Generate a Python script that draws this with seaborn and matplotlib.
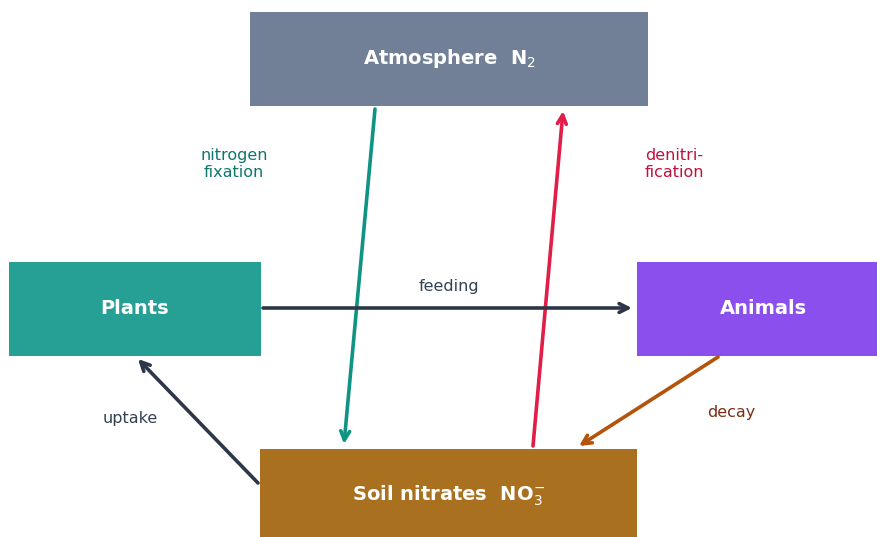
import matplotlib
matplotlib.use("Agg")
import matplotlib.pyplot as plt
import seaborn as sns
from matplotlib.patches import Rectangle

sns.set_theme(style="white")
plt.rcParams['font.family'] = ['DejaVu Sans']

# boxes of the cycle (pixel space, y down)
box_names = ["Atmosphere  N$_2$", "Plants", "Animals", "Soil nitrates  NO$_3^{-}$"]
box_x = [250, 9, 637, 260]
box_y = [12, 262, 262, 449]
box_w = [398, 252, 252, 377]
box_h = [94, 94, 94, 94]
box_colors = ["#718096", "#26a095", "#8a4fed", "#a97020"]

# flows between boxes
flow_labels = ["nitrogen\nfixation", "denitri-\nfication", "feeding", "decay", "uptake"]
flow_start = [(375, 109), (533, 446), (263, 308), (718, 357), (258, 483)]
flow_end = [(344, 444), (563, 111), (632, 308), (579, 446), (138, 359)]
flow_colors = ["#0f9484", "#e11d48", "#2d3748", "#b4530a", "#2d3748"]
label_pos = [(234, 164), (674, 164), (449, 286), (731, 413), (130, 418)]
label_colors = ["#0f766e", "#be123c", "#334155", "#7c2d12", "#334155"]

fig = plt.figure(figsize=(8.77, 5.37), dpi=100)
ax = fig.add_axes([0, 0, 1, 1])
ax.set_xlim(0, 877)
ax.set_ylim(537, 0)
ax.axis("off")

for name, x, y, w, h, c in zip(box_names, box_x, box_y, box_w, box_h, box_colors):
    ax.add_patch(Rectangle((x, y), w, h, facecolor=c, edgecolor="none"))
    ax.text(x + w / 2, y + h / 2, name, color="white", fontsize=14,
            fontweight="bold", ha="center", va="center")

for s, e, c in zip(flow_start, flow_end, flow_colors):
    ax.annotate("", xy=e, xytext=s,
                arrowprops=dict(arrowstyle="->", color=c, lw=2.6,
                                mutation_scale=16, shrinkA=0, shrinkB=0))

for lab, p, c in zip(flow_labels, label_pos, label_colors):
    ax.text(p[0], p[1], lab, color=c, fontsize=11.5, ha="center", va="center",
            linespacing=1.1)

fig.savefig("out.png", dpi=100)
